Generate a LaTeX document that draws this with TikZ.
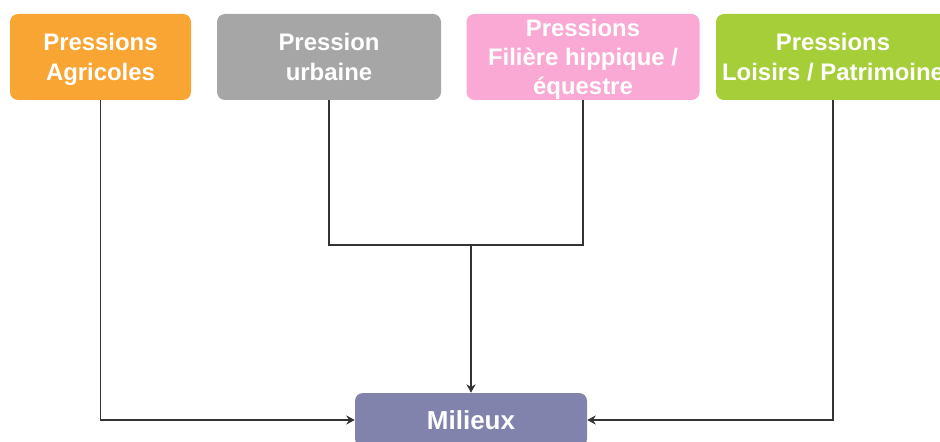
\documentclass[tikz,border=0pt]{standalone}
\usepackage{fontspec}
\setmainfont{Liberation Sans}
\usetikzlibrary{arrows.meta}
\definecolor{agri}{HTML}{F8A533}
\definecolor{urb}{HTML}{A6A6A6}
\definecolor{hipp}{HTML}{F9A9D3}
\definecolor{lois}{HTML}{A6CE39}
\definecolor{mil}{HTML}{8183AD}
\definecolor{trait}{HTML}{333333}
\begin{document}
\begin{tikzpicture}[
    pression/.style={rounded corners=0.2cm, inner sep=0pt, minimum height=2.15cm, align=center,
        text=white, text depth=-2.4pt, font=\fontsize{17}{21}\selectfont\bfseries},
    lien/.style={line width=1.4pt, draw=trait},
    fleche/.style={lien, -{Stealth[length=6pt,width=6.5pt]}}
  ]

            \useasboundingbox (0,0) rectangle (23.5,11.025);
            \clip (0,0) rectangle (23.5,11.025);

            \node[pression, fill=agri, minimum width=4.525cm] (agr) at (2.5125,9.6) {Pressions\\Agricoles};
            \node[pression, fill=urb, minimum width=5.6cm] (urb) at (8.225,9.6) {Pression\\urbaine};
            \node[pression, fill=hipp, minimum width=5.825cm, text depth=-0.7pt,
                font=\fontsize{17}{20.6}\selectfont\bfseries] (hip) at (14.575,9.6) {Pressions\\Filière hippique /\\équestre};
            \node[pression, fill=lois, minimum width=5.85cm] (loi) at (20.825,9.6) {Pressions\\Loisirs / Patrimoine};

            \node[pression, fill=mil, minimum width=5.8cm, minimum height=1.35cm, text depth=-1.4pt,
                font=\fontsize{18.5}{22}\selectfont\bfseries] (mil) at (11.775,0.525) {Milieux};

            \coordinate (jonction) at (11.775,4.9);

            \draw[fleche] (agr.south) |- (mil.west);
            \draw[fleche] (loi.south) |- (mil.east);
            \draw[lien] (urb.south) |- (jonction) -| (hip.south);
            \draw[fleche] (jonction)--(mil.north);

        \end{tikzpicture}
\end{document}
